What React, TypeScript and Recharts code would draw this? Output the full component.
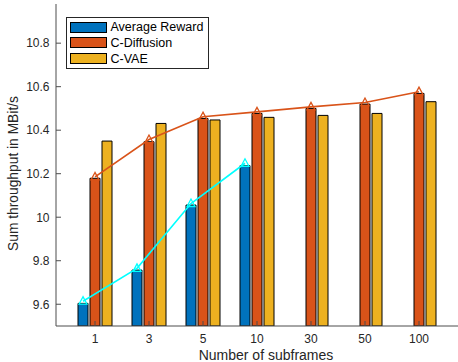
import React from 'react';
import { ComposedChart, Bar, Line, XAxis, YAxis, Legend, Label } from 'recharts';

const categories = ['1', '3', '5', '10', '30', '50', '100'];
const avgReward = [9.604, 9.757, 10.056, 10.237, null, null, null];
const cDiffusion = [10.179, 10.347, 10.454, 10.477, 10.5, 10.52, 10.569];
const cVae = [10.35, 10.431, 10.447, 10.459, 10.468, 10.477, 10.531];
const avgRewardLine = [9.614, 9.765, 10.063, 10.248, null, null, null];
const cDiffusionLine = [10.185, 10.357, 10.462, 10.484, 10.507, 10.527, 10.577];
const yTicks = [9.6, 9.8, 10, 10.2, 10.4, 10.6, 10.8];

const BLUE = '#0072BD';
const ORANGE = '#D95319';
const YELLOW = '#EDB120';
const CYAN = '#00FFFF';
const AXIS = '#4d4d4d';
const TEXT = '#262626';
const FONT = '"Liberation Sans", Arial, Helvetica, sans-serif';

const data = categories.map((c, i) => ({
  name: c,
  avg: avgReward[i],
  diff: cDiffusion[i],
  vae: cVae[i],
  avgLine: avgRewardLine[i],
  diffLine: cDiffusionLine[i],
}));

const BottomTick = (props: any) => {
  const { x, y, payload } = props;
  return (
    <g>
      <line x1={x} y1={y} x2={x} y2={y - 5} stroke={AXIS} strokeWidth={1} />
      <text x={x} y={y + 17} textAnchor="middle" fontSize={12} fill={TEXT} fontFamily={FONT}>
        {payload.value}
      </text>
    </g>
  );
};

const TopTick = (props: any) => {
  const { x, y } = props;
  return <line x1={x} y1={y} x2={x} y2={y + 5} stroke={AXIS} strokeWidth={1} />;
};

const LeftTick = (props: any) => {
  const { x, y, payload } = props;
  return (
    <g>
      <line x1={x} y1={y} x2={x + 5} y2={y} stroke={AXIS} strokeWidth={1} />
      <text x={x - 6.5} y={y + 4.3} textAnchor="end" fontSize={12} fill={TEXT} fontFamily={FONT}>
        {String(payload.value)}
      </text>
    </g>
  );
};

const triangleDot = (color: string) => (props: any) => {
  const { cx, cy, index, value } = props;
  if (value == null || cx == null || cy == null) return <g key={index} />;
  const pts = `${cx},${cy - 4.5} ${cx - 4},${cy + 3} ${cx + 4},${cy + 3}`;
  return <polygon key={index} points={pts} fill="none" stroke={color} strokeWidth={1.3} />;
};

const legendItems = [
  { label: 'Average Reward', color: BLUE },
  { label: 'C-Diffusion', color: ORANGE },
  { label: 'C-VAE', color: YELLOW },
];

const LegendBox = () => (
  <div
    style={{
      position: 'relative',
      width: 143,
      height: 52,
      boxSizing: 'border-box',
      border: `1px solid ${TEXT}`,
      background: '#fff',
      fontFamily: FONT,
      fontSize: 12.5,
      color: '#000',
    }}
  >
    {legendItems.map((it, i) => (
      <React.Fragment key={it.label}>
        <div
          style={{
            position: 'absolute',
            left: 3,
            top: 4 + i * 15.8,
            width: 37,
            height: 11,
            boxSizing: 'border-box',
            border: '1px solid #000',
            background: it.color,
          }}
        />
        <div
          style={{
            position: 'absolute',
            left: 43.5,
            top: 1.5 + i * 15.8,
            lineHeight: '16px',
            whiteSpace: 'nowrap',
          }}
        >
          {it.label}
        </div>
      </React.Fragment>
    ))}
  </div>
);

export default function App() {
  return (
    <div style={{ position: 'absolute', left: 0, top: 0, background: '#fff' }}>
      <ComposedChart
        width={458}
        height={362}
        data={data}
        margin={{ top: 4, right: 0, bottom: 0, left: 0 }}
        barGap={2}
      >
        <XAxis
          dataKey="name"
          height={36}
          padding={{ left: 12, right: 12 }}
          axisLine={{ stroke: AXIS, strokeWidth: 1 }}
          tickLine={false}
          tickSize={0}
          tickMargin={0}
          tick={<BottomTick />}
          interval={0}
        >
          <Label
            content={() => (
              <text x={266} y={359.5} textAnchor="middle" fontSize={14} fill={TEXT} fontFamily={FONT}>
                Number of subframes
              </text>
            )}
          />
        </XAxis>
        <XAxis
          xAxisId="top"
          orientation="top"
          dataKey="name"
          height={0}
          padding={{ left: 12, right: 12 }}
          axisLine={{ stroke: AXIS, strokeWidth: 1 }}
          tickLine={false}
          tickSize={0}
          tickMargin={0}
          tick={<TopTick />}
          interval={0}
        />
        <XAxis xAxisId="cy" dataKey="name" hide padding={{ left: 0, right: 24 }} />
        <YAxis
          width={56}
          domain={[9.5, 10.98]}
          allowDataOverflow
          ticks={yTicks}
          axisLine={{ stroke: AXIS, strokeWidth: 1 }}
          tickLine={false}
          tickSize={0}
          tickMargin={0}
          tick={<LeftTick />}
          interval={0}
        >
          <Label
            content={() => (
              <text
                x={17.5}
                y={173.5}
                transform="rotate(-90 17.5 173.5)"
                textAnchor="middle"
                fontSize={13.8}
                fill={TEXT}
                fontFamily={FONT}
              >
                Sum throughput in MBit/s
              </text>
            )}
          />
        </YAxis>
        <Legend
          layout="vertical"
          align="center"
          verticalAlign="middle"
          wrapperStyle={{ left: 66, top: 16.5, width: 143, height: 52 }}
          content={() => <LegendBox />}
        />
        <Bar dataKey="avg" name="Average Reward" fill={BLUE} stroke="#000" strokeWidth={1} barSize={10} isAnimationActive={false} />
        <Bar dataKey="diff" name="C-Diffusion" fill={ORANGE} stroke="#000" strokeWidth={1} barSize={10} isAnimationActive={false} />
        <Bar dataKey="vae" name="C-VAE" fill={YELLOW} stroke="#000" strokeWidth={1} barSize={10} isAnimationActive={false} />
        <Line
          dataKey="diffLine"
          stroke={ORANGE}
          strokeWidth={1.6}
          dot={triangleDot(ORANGE)}
          activeDot={false}
          legendType="none"
          isAnimationActive={false}
        />
        <Line
          xAxisId="cy"
          dataKey="avgLine"
          stroke={CYAN}
          strokeWidth={1.6}
          dot={triangleDot(CYAN)}
          activeDot={false}
          legendType="none"
          connectNulls={false}
          isAnimationActive={false}
        />
      </ComposedChart>
    </div>
  );
}
